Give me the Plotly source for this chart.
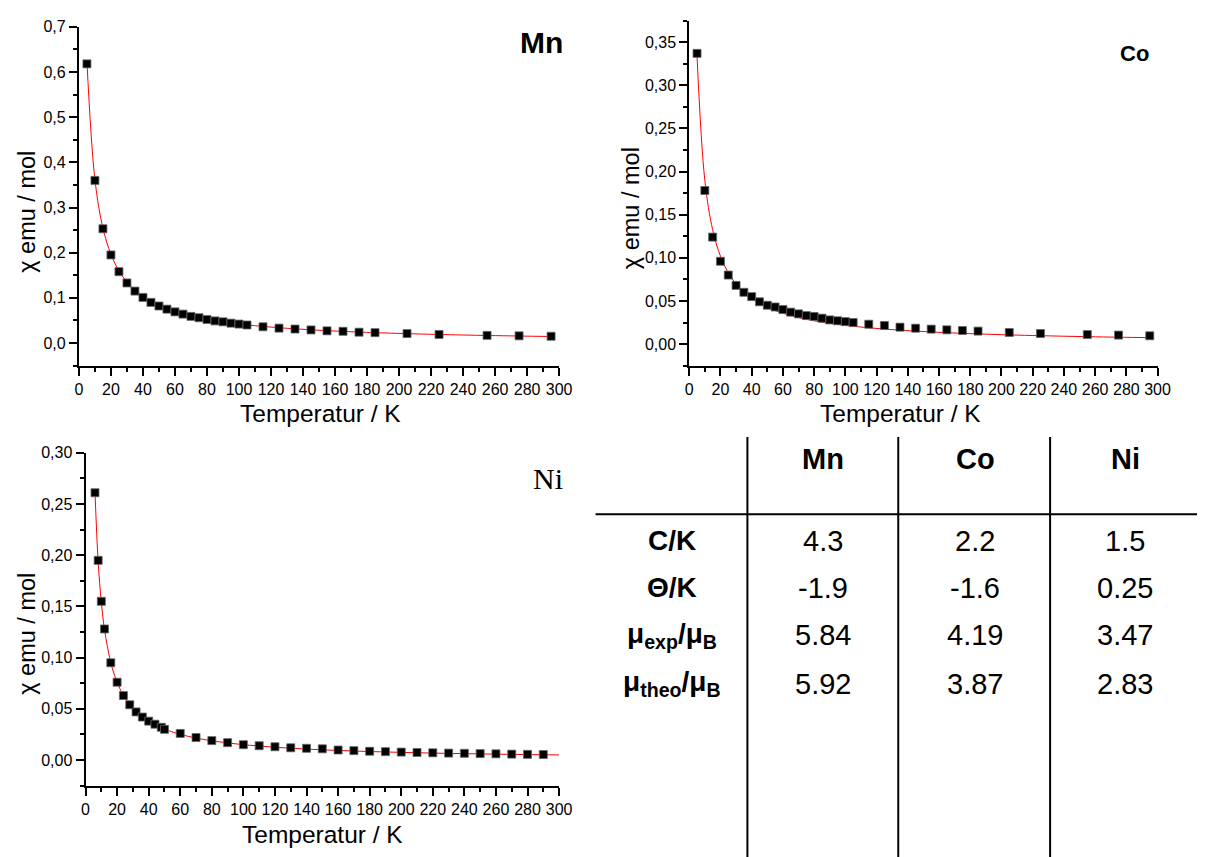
import plotly.graph_objects as go

W, H = 1210, 857

# ---------------- data ----------------
T_mn = [5, 10, 15, 20, 25, 30, 35, 40, 45, 50, 55, 60, 65, 70, 75, 80, 85, 90, 95, 100, 105,
        115, 125, 135, 145, 155, 165, 175, 185, 205, 225, 255, 275, 295]
chi_mn = [0.618, 0.360, 0.253, 0.195, 0.158, 0.133, 0.115, 0.101, 0.090, 0.082, 0.075, 0.069,
          0.064, 0.059, 0.056, 0.052, 0.049, 0.047, 0.044, 0.042, 0.040,
          0.036, 0.033, 0.031, 0.029, 0.027, 0.026, 0.024, 0.023, 0.021, 0.019, 0.017, 0.016, 0.015]

T_co = [5, 10, 15, 20, 25, 30, 35, 40, 45, 50, 55, 60, 65, 70, 75, 80, 85, 90, 95, 100, 105,
        115, 125, 135, 145, 155, 165, 175, 185, 205, 225, 255, 275, 295]
chi_co = [0.337, 0.178, 0.124, 0.096, 0.080, 0.068, 0.060, 0.055, 0.049, 0.045, 0.043, 0.040,
          0.037, 0.035, 0.033, 0.032, 0.030, 0.028, 0.027, 0.026, 0.025,
          0.023, 0.0215, 0.0196, 0.0184, 0.0173, 0.0165, 0.0157, 0.015,
          0.0134, 0.0122, 0.011, 0.0104, 0.0096]

T_ni = [6, 8, 10, 12, 16, 20, 24, 28, 32, 36, 40, 44, 48, 50,
        60, 70, 80, 90, 100, 110, 120, 130, 140, 150, 160, 170, 180, 190, 200,
        210, 220, 230, 240, 250, 260, 270, 280, 290]
chi_ni = [0.261, 0.195, 0.155, 0.128, 0.095, 0.076, 0.063, 0.054, 0.047, 0.042, 0.038, 0.035,
          0.032, 0.030,
          0.026, 0.022, 0.019, 0.017, 0.015, 0.014, 0.013, 0.012, 0.0115, 0.011,
          0.0098, 0.0092, 0.0086, 0.0082, 0.0078, 0.0074, 0.0071, 0.0068, 0.0066, 0.0063,
          0.0061, 0.0058, 0.0056, 0.0054]

# table (Curie-Weiss parameters)
table_cols = ["Mn", "Co", "Ni"]
C_vals = [4.3, 2.2, 1.5]
theta_vals = [-1.9, -1.6, 0.25]
mu_exp = [5.84, 4.19, 3.47]
mu_theo = [5.92, 3.87, 2.83]
row_labels = ["<b>C/K</b>", "<b>Θ/K</b>", "<b>μ<sub>exp</sub>/μ<sub>B</sub></b>",
              "<b>μ<sub>theo</sub>/μ<sub>B</sub></b>"]
fit_T_end = [295, 295, 300]

FONT = "Liberation Sans, Arial, sans-serif"


def px(x):
    return x / W


def py(y):
    return 1 - y / H


def fit_curve(T, C, th, t_end):
    tt = list(T)
    if tt[-1] < t_end:
        tt.append(t_end)
    return tt, [C / (t - th) for t in tt]


fig = go.Figure()

series = [(T_mn, chi_mn, "x", "y"), (T_co, chi_co, "x2", "y2"), (T_ni, chi_ni, "x3", "y3")]
for i, (T, chi, xa, ya) in enumerate(series):
    ft, fc = fit_curve(T, C_vals[i], theta_vals[i], fit_T_end[i])
    fig.add_trace(go.Scatter(x=ft, y=fc, mode="lines", line=dict(color="red", width=1, shape="spline"),
                             xaxis=xa, yaxis=ya, showlegend=False, hoverinfo="skip"))
    fig.add_trace(go.Scatter(x=T, y=chi, mode="markers",
                             marker=dict(symbol="square", size=8, color="black",
                                         line=dict(color="#666666", width=0.8)),
                             xaxis=xa, yaxis=ya, showlegend=False, cliponaxis=False))


def axstyle(**kw):
    d = dict(showline=True, linecolor="black", linewidth=2, ticks="outside", ticklen=8,
             tickwidth=1.5, tickcolor="black", showgrid=False, zeroline=False,
             tickfont=dict(family=FONT, size=16, color="black"),
             minor=dict(ticks="outside", ticklen=4, tickwidth=1.5, tickcolor="black", showgrid=False))
    d.update(kw)
    return d


def xstyle(domain, anchor):
    d = axstyle(domain=domain, anchor=anchor, range=[0, 300], tick0=0, dtick=20)
    d["minor"]["dtick"] = 10
    return d


def ystyle(domain, anchor, rng, dtick, mdtick, fmt):
    d = axstyle(domain=domain, anchor=anchor, range=rng, tick0=0, dtick=dtick, tickformat=fmt)
    d["minor"]["dtick"] = mdtick
    d["minor"]["tick0"] = 0
    return d


# plot areas (pixels)
mn_box = (76, 563, 19, 361)
co_box = (695, 1170, 12.7, 361)
ni_box = (82.7, 563, 449, 785)


def dom(box):
    x0, x1, y0, y1 = box
    return [px(x0), px(x1)], [py(y1), py(y0)]


mx, my = dom(mn_box)
cx, cy = dom(co_box)
nx, ny = dom(ni_box)

fig.update_layout(
    width=W, height=H, margin=dict(l=0, r=0, t=0, b=0),
    paper_bgcolor="white", plot_bgcolor="white", separators=",.",
    showlegend=False,
    xaxis=xstyle(mx, "y"),
    yaxis=ystyle(my, "x", [-0.05, 0.7], 0.1, 0.05, ".1f"),
    xaxis2=xstyle(cx, "y2"),
    yaxis2=ystyle(cy, "x2", [-0.025, 0.375], 0.05, 0.025, ".2f"),
    xaxis3=xstyle(nx, "y3"),
    yaxis3=ystyle(ny, "x3", [-0.025, 0.30], 0.05, 0.025, ".2f"),
)

ann = []


def text(x, y, s, size, family=FONT, angle=0, xanchor="center", yanchor="middle"):
    ann.append(dict(x=px(x), y=py(y), xref="paper", yref="paper", text=s, showarrow=False,
                    font=dict(family=family, size=size, color="black"), textangle=angle,
                    xanchor=xanchor, yanchor=yanchor))


# axis titles
text(321, 409, "Temperatur / K", 24.5)
text(909, 409, "Temperatur / K", 24.5)
text(323, 834, "Temperatur / K", 24.5)
text(23, 206, "χ emu / mol", 23.5, angle=-90)
text(636, 202, "χ emu / mol", 23.5, angle=-90)
text(23, 632, "χ emu / mol", 23.5, angle=-90)

# panel labels
text(545, 35, "<b>Mn</b>", 30)
text(1147, 46, "<b>Co</b>", 22)
text(552, 475, "Ni", 30, family="Liberation Serif, Times New Roman, serif")

# table
col_x = [831, 985, 1137]
row_y = [538, 585, 633, 682]
for j, name in enumerate(table_cols):
    text(col_x[j], 455, "<b>" + name + "</b>", 29)
label_x = 678
for r, lab in enumerate(row_labels):
    text(label_x, row_y[r], lab, 28)
rows = [C_vals, theta_vals, mu_exp, mu_theo]
for r, vals in enumerate(rows):
    for j, v in enumerate(vals):
        text(col_x[j], row_y[r], f"{v:g}", 29)

shapes = []
for xv in [754, 907, 1061]:
    shapes.append(dict(type="line", xref="paper", yref="paper", x0=px(xv), x1=px(xv),
                       y0=py(433), y1=py(857), line=dict(color="black", width=2)))
shapes.append(dict(type="line", xref="paper", yref="paper", x0=px(600), x1=px(1210),
                   y0=py(511), y1=py(511), line=dict(color="black", width=2)))

fig.update_layout(annotations=ann, shapes=shapes)

fig.write_html("out.html", config={"displayModeBar": False},
               post_script="document.body.style.margin='0';document.body.style.overflow='hidden';")
